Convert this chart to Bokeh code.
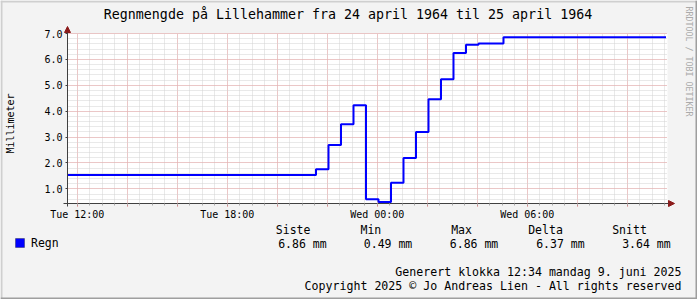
import math
from bokeh.plotting import figure
from bokeh.models import (Range1d, FixedTicker, PrintfTickFormatter, Label,
                          BoxAnnotation, Arrow, NormalHead)
from bokeh.embed import file_html
from bokeh.resources import INLINE

# ---------------- data ----------------
title_text = "Regnmengde på Lillehammer fra 24 april 1964 til 25 april 1964"
y_title = "Millimeter"
series_name = "Regn"
unit = "mm"

# hours after Tue 12:00 at which each value starts (step "after")
step_hours = [-0.39, 9.55, 10.05, 10.55, 11.05, 11.55, 12.05, 12.55, 13.05,
              13.55, 14.05, 14.55, 15.05, 15.55, 16.05, 17.05, 23.55]
rain_mm = [1.54, 1.76, 2.69, 3.50, 4.23, 0.60, 0.49, 1.24, 2.19,
           3.20, 4.46, 5.23, 6.25, 6.57, 6.61, 6.86, 6.86]

x_tick_hours = [0, 6, 12, 18]
x_tick_labels = ["Tue 12:00", "Tue 18:00", "Wed 00:00", "Wed 06:00"]
x_grid_major = [h for h in range(0, 24, 2)]
x_grid_minor = [k * 0.5 for k in range(0, 48)]
y_ticks = [1, 2, 3, 4, 5, 6, 7]
y_grid_minor = [round(0.6 + 0.2 * k, 1) for k in range(0, 33)]

stat_names = ["Siste", "Min", "Max", "Delta", "Snitt"]
stat_values = [6.86, 0.49, 6.86, 6.37, 3.64]

footer_lines = ["Generert klokka 12:34 mandag 9. juni 2025",
                "Copyright 2025 © Jo Andreas Lien - All rights reserved"]
watermark = "RRDTOOL / TOBI OETIKER"

# ---------------- layout ----------------
W, H = 697, 299
FL, FR, FT, FB = 67, 667, 33, 203          # data area inside the canvas
X0, X1 = -0.39, 23.61                       # visible hours
Y0, Y1 = 0.435, 7.0                         # visible millimetres
MONO = "DejaVu Sans Mono"
BG = "#f3f3f3"

xpp = (X1 - X0) / (FR - FL)
ypp = (Y1 - Y0) / (FB - FT)
xr = Range1d(X0 - FL * xpp, X1 + (W - FR) * xpp)
yr = Range1d(Y0 - (H - FB) * ypp, Y1 + FT * ypp)


def sx(x):
    return x


def sy(y):
    return H - y


p = figure(width=W, height=H, output_backend="svg", toolbar_location=None,
           x_range=xr, y_range=yr, min_border=0,
           min_border_left=0, min_border_right=0,
           min_border_top=0, min_border_bottom=0,
           background_fill_color=BG, border_fill_color=BG,
           outline_line_color=None)
p.title.visible = False

# white plotting area
p.add_layout(BoxAnnotation(left=X0, right=X1, bottom=Y0, top=Y1,
                           fill_color="white", fill_alpha=1, line_color=None,
                           level="image"))

# grids
p.xgrid.ticker = FixedTicker(ticks=x_grid_major, minor_ticks=x_grid_minor)
p.ygrid.ticker = FixedTicker(ticks=y_ticks, minor_ticks=y_grid_minor)
p.xgrid.bounds = (X0, X1)
p.ygrid.bounds = (Y0, Y1)
g0 = p.xgrid[0]
if "cross_bounds" in g0.properties():
    p.xgrid.cross_bounds = (Y0, Y1)
    p.ygrid.cross_bounds = (X0, X1)
for g in (p.xgrid, p.ygrid):
    g.grid_line_color = "#eda5a5"
    g.grid_line_dash = "1 1"
    g.grid_line_width = 1
    g.minor_grid_line_color = "#d2d2d2"
    g.minor_grid_line_dash = "1 1"
    g.minor_grid_line_width = 1

# x axis (drawn at the bottom of the white area)
xa = p.xaxis[0]
xa.fixed_location = Y0
xa.bounds = (X0 - 4 * xpp, X1 + 2 * xpp)
xa.ticker = FixedTicker(ticks=x_grid_major, minor_ticks=x_grid_minor)
overrides = {h: "" for h in x_grid_major}
for h, lab_ in zip(x_tick_hours, x_tick_labels):
    overrides[h] = lab_
xa.major_label_overrides = overrides
xa.axis_line_color = "#404040"
xa.major_tick_line_color = "#e07070"
xa.minor_tick_line_color = "#aaaaaa"
xa.major_tick_out = 3
xa.major_tick_in = 0
xa.minor_tick_out = 2
xa.minor_tick_in = 0
xa.major_label_standoff = 2
xa.major_label_text_font = MONO
xa.major_label_text_font_size = "10px"
xa.major_label_text_color = "black"

# y axis
ya = p.yaxis[0]
ya.fixed_location = X0
ya.bounds = (Y0 - 3 * ypp, Y1)
ya.ticker = FixedTicker(ticks=y_ticks, minor_ticks=[])
ya.formatter = PrintfTickFormatter(format="%.1f")
ya.axis_line_color = "#404040"
ya.major_tick_line_color = "#404040"
ya.major_tick_out = 2
ya.major_tick_in = 0
ya.minor_tick_out = 0
ya.minor_tick_in = 0
ya.major_label_standoff = 3
ya.major_label_text_font = MONO
ya.major_label_text_font_size = "10px"
ya.major_label_text_color = "black"

# data line
p.step(step_hours, rain_mm, mode="after", line_color="#0000ff", line_width=2)

# axis arrows
ARROW = "#8b1a1a"
p.add_layout(Arrow(start_units="screen", end_units="screen",
                   x_start=sx(FR - 2), y_start=sy(FB), x_end=sx(674), y_end=sy(FB),
                   line_color="#404040", line_width=1,
                   end=NormalHead(size=6, fill_color=ARROW, line_color=ARROW)))
p.add_layout(Arrow(start_units="screen", end_units="screen",
                   x_start=sx(FL), y_start=sy(FT + 2), x_end=sx(FL), y_end=sy(26),
                   line_color="#404040", line_width=1,
                   end=NormalHead(size=6, fill_color=ARROW, line_color=ARROW)))


def lab(text, x, y, size="11.5px", align="left", baseline="middle", angle=0.0,
        color="black"):
    p.add_layout(Label(x=sx(x), y=sy(y), x_units="screen", y_units="screen",
                       text=text, text_font=MONO, text_font_size=size,
                       text_align=align, text_baseline=baseline, angle=angle,
                       text_color=color))


# title, axis title, watermark
lab(title_text, 347.5, 13.5, size="13.3px", align="center")
lab(y_title, 10, 123, size="10px", align="center", angle=math.pi / 2)
lab(watermark, 688.5, 6, size="8.3px", align="left", angle=-math.pi / 2,
    color="#aaaaaa")

# legend
p.add_layout(BoxAnnotation(left=sx(15), right=sx(24), top=sy(238), bottom=sy(247),
                           left_units="screen", right_units="screen",
                           top_units="screen", bottom_units="screen",
                           fill_color="#0000ff", fill_alpha=1,
                           line_color="black", line_width=1))
lab(series_name, 30.5, 242.5)
head_x = [275.3, 360, 450.7, 527.7, 611.7]
val_x = [277.7, 363.3, 449.3, 535.7, 621.7]
for name, v, hx, vx in zip(stat_names, stat_values, head_x, val_x):
    lab(name, hx, 229)
    lab(f"{v:.2f} {unit}", vx, 243)

# footer
lab(footer_lines[0], 681, 271, size="11.6px", align="right")
lab(footer_lines[1], 681, 285, size="11.6px", align="right")


# 3D border of the image
def strip(l, r, t, b, color):
    p.add_layout(BoxAnnotation(left=sx(l), right=sx(r), top=sy(t), bottom=sy(b),
                               left_units="screen", right_units="screen",
                               top_units="screen", bottom_units="screen",
                               fill_color=color, fill_alpha=1, line_color=None))


strip(0, 2, 0, 299, "#cfcfcf")
strip(0, 697, 0, 2, "#cfcfcf")
strip(695, 697, 0, 299, "#9e9e9e")
strip(0, 697, 297, 299, "#9e9e9e")

open("out.html", "w").write(file_html(p, INLINE))
